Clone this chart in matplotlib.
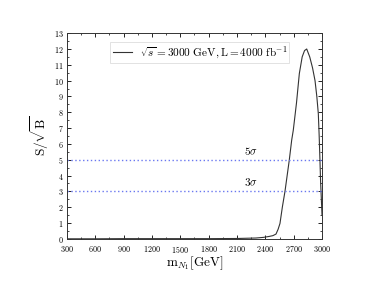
import numpy as np
import matplotlib.pyplot as plt

plt.rcParams['mathtext.fontset'] = 'cm'
plt.rcParams['font.family'] = 'serif'
plt.rcParams['font.serif'] = ['cmr10', 'DejaVu Serif']
plt.rcParams['axes.formatter.use_mathtext'] = True

# curve
m_n1 = [300, 600, 900, 1200, 1500, 1800, 2100, 2300, 2379, 2440, 2480, 2513,
        2535, 2555, 2580, 2608, 2654, 2679, 2696, 2730, 2760, 2790, 2815,
        2838, 2870, 2900, 2926, 2945, 2961, 2970, 2978, 2985, 2993, 3000]
signif = [0.0, 0.0, 0.01, 0.01, 0.01, 0.01, 0.02, 0.05, 0.09, 0.15, 0.2,
          0.3, 0.6, 0.97, 2.0, 3.0, 5.0, 6.24, 6.87, 8.6, 10.45, 11.5, 11.9,
          12.0, 11.5, 10.8, 10.0, 9.0, 7.9, 6.5, 5.0, 3.6, 2.5, 1.5]
levels = [5, 3]
level_labels = [r'$5\sigma$', r'$3\sigma$']

fig = plt.figure(figsize=(3.74, 2.86), dpi=100)
ax = fig.add_axes([0.179, 0.165, 0.682, 0.719])

ax.plot(m_n1, signif, color='#333333', lw=0.8,
        label=r'$\sqrt{s}=3000\ \mathrm{GeV}, \mathrm{L}=4000\ \mathrm{fb}^{-1}$')
for lv, lab in zip(levels, level_labels):
    ax.axhline(lv, color='#6a78f0', ls=(0, (1, 1.8)), lw=1.0)
    ax.text(2245, lv + 0.56, lab, fontsize=8, ha='center', va='center')

ax.set_xlim(300, 3000)
ax.set_ylim(0, 13)
ax.set_xticks(np.arange(300, 3001, 300))
ax.set_xticks(np.arange(300, 3001, 150), minor=True)
ax.set_yticks(np.arange(0, 14, 1))
ax.set_yticks(np.arange(0, 13.1, 0.5), minor=True)
ax.tick_params(which='both', direction='in', top=True, right=True,
               labelsize=5.8, pad=2.5)
ax.tick_params(axis='x', which='major', pad=3.5)
ax.tick_params(which='major', length=3, width=0.6)
ax.tick_params(which='minor', length=1.5, width=0.5)
for s in ax.spines.values():
    s.set_linewidth(0.7)
    s.set_color('#333333')

ax.set_xlabel(r'$\mathrm{m}_{N_1}[\mathrm{GeV}]$', fontsize=9.5, labelpad=0)
ax.set_ylabel(r'$\mathrm{S}/\sqrt{\mathrm{B}}$', fontsize=9.5, labelpad=2)

leg = ax.legend(loc='upper left', bbox_to_anchor=(0.17, 0.955), fontsize=8.1,
                frameon=True, fancybox=False, handlelength=1.7,
                borderpad=0.2, borderaxespad=0, handletextpad=0.7)
leg.get_frame().set_edgecolor('#cccccc')
leg.get_frame().set_linewidth(0.5)

fig.savefig('out.png', dpi=100)
